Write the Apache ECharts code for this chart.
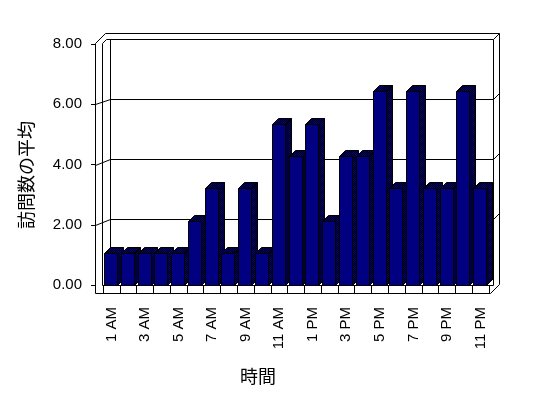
<!DOCTYPE html>
<html>
<head>
<meta charset="utf-8">
<script src="https://cdn.jsdelivr.net/npm/echarts@6/dist/echarts.min.js"></script>
<style>
  html, body { margin: 0; padding: 0; background: #ffffff; }
  #chart { width: 548px; height: 398px; }
</style>
</head>
<body>
<div id="chart"></div>
<script>
// 時間帯ごとの訪問数の平均
const hours = [
  '1 AM', '2 AM', '3 AM', '4 AM', '5 AM', '6 AM', '7 AM', '8 AM', '9 AM', '10 AM', '11 AM',
  '12 PM', '1 PM', '2 PM', '3 PM', '4 PM', '5 PM', '6 PM', '7 PM', '8 PM', '9 PM', '10 PM', '11 PM'
];
const averages = [
  1.07, 1.07, 1.07, 1.07, 1.07, 2.14, 3.21, 1.07, 3.21, 1.07, 5.36,
  4.29, 5.36, 2.14, 4.29, 4.29, 6.43, 3.21, 6.43, 3.21, 3.21, 6.43, 3.21
];
const yMin = 0;
const yMax = 8;
const yStep = 2;
const gridValues = [2, 4, 6];

const latin = '"Liberation Sans", Arial, sans-serif';
const cjk = '"Noto Sans CJK JP", sans-serif';

// 網掛け (側面・上面)
const dot = document.createElement('canvas');
dot.width = dot.height = 2;
const g = dot.getContext('2d');
g.fillStyle = '#000080';
g.fillRect(0, 0, 2, 2);
g.fillStyle = '#000000';
g.fillRect(0, 0, 1, 1);
g.fillRect(1, 1, 1, 1);
const shade = { image: dot, repeat: 'repeat' };

const FACE_W = 13;
const DEPTH = 6;

function renderBar(params, api) {
  const i = api.value(0);
  const base = api.coord([i, 0]);
  const top = api.coord([i, api.value(1)]);
  const band = api.size([1, 0])[0];
  const x0 = Math.round(base[0] - band / 2 + 1) + 0.5;
  const x1 = x0 + FACE_W;
  const y0 = Math.round(top[1]) + 0.5;
  const y1 = Math.round(base[1]) + 0.5;
  const ink = { stroke: '#000000', lineWidth: 1 };
  return {
    type: 'group',
    children: [
      {
        type: 'polygon',
        shape: { points: [[x1, y0], [x1 + DEPTH, y0 - DEPTH], [x1 + DEPTH, y1 - DEPTH], [x1, y1]] },
        style: Object.assign({ fill: shade }, ink)
      },
      {
        type: 'polygon',
        shape: { points: [[x0, y0], [x0 + DEPTH, y0 - DEPTH], [x1 + DEPTH, y0 - DEPTH], [x1, y0]] },
        style: Object.assign({ fill: shade }, ink)
      },
      {
        type: 'rect',
        shape: { x: x0, y: y0, width: FACE_W, height: y1 - y0 },
        style: Object.assign({ fill: '#000080' }, ink)
      }
    ]
  };
}

const chart = echarts.init(document.getElementById('chart'));
const option = {
  animation: false,
  backgroundColor: '#ffffff',
  grid: [
    { left: 103, top: 44, width: 386, height: 241 },
    { left: 110, top: 39, width: 383, height: 240 }
  ],
  xAxis: [
    {
      type: 'category',
      gridIndex: 0,
      data: hours,
      axisLine: { show: false },
      axisTick: { show: true, interval: 0, length: 8, lineStyle: { color: '#000000' } },
      axisLabel: {
        interval: 1,
        rotate: 90,
        margin: 22,
        color: '#000000',
        fontSize: 15,
        fontFamily: latin
      }
    },
    { type: 'category', gridIndex: 1, data: hours, show: false }
  ],
  yAxis: [
    {
      type: 'value',
      gridIndex: 0,
      min: yMin,
      max: yMax,
      interval: yStep,
      offset: 8,
      axisLine: { show: false },
      axisTick: { show: true, length: 4, lineStyle: { color: '#000000' } },
      axisLabel: {
        margin: 13,
        color: '#000000',
        fontSize: 15,
        fontFamily: latin,
        formatter: v => v.toFixed(2)
      },
      splitLine: { show: false }
    },
    {
      type: 'value',
      gridIndex: 1,
      min: yMin,
      max: yMax,
      interval: yStep,
      axisLine: { show: false },
      axisTick: { show: false },
      axisLabel: { show: false },
      splitLine: { show: true, lineStyle: { color: '#000000', width: 1 } }
    }
  ],
  series: [
    {
      type: 'custom',
      name: '訪問数の平均',
      xAxisIndex: 0,
      yAxisIndex: 0,
      renderItem: renderBar,
      encode: { x: 0, y: 1 },
      data: hours.map((h, i) => [i, averages[i]])
    }
  ]
};
chart.setOption(option);

// 壁と床の枠線
const ink = { stroke: '#000000', lineWidth: 1, fill: null };
const frame = [
  { type: 'polyline', shape: { points: [[95.5, 293.5], [95.5, 43.5], [105.5, 33.5], [499.5, 33.5], [499.5, 284.5], [490.5, 293.5], [95.5, 293.5]] } },
  { type: 'polyline', shape: { points: [[102.5, 285.5], [102.5, 43.5], [106.5, 39.5], [493.5, 39.5], [493.5, 285.5]] } },
  { type: 'polyline', shape: { points: [[110.5, 39.5], [110.5, 279.5]] } },
  { type: 'polyline', shape: { points: [[493.5, 39.5], [499.5, 33.5]] } },
  { type: 'polyline', shape: { points: [[102.5, 285.5], [493.5, 285.5]] } }
];
gridValues.forEach(v => {
  const yf = Math.round(chart.convertToPixel({ yAxisIndex: 0 }, v)) + 0.5;
  const yb = Math.round(chart.convertToPixel({ yAxisIndex: 1 }, v)) + 0.5;
  frame.push({ type: 'polyline', shape: { points: [[95.5, yf], [110.5, yb]] } });
  frame.push({ type: 'polyline', shape: { points: [[493.5, yb], [499.5, yb - 6]] } });
});
frame.forEach(el => { el.style = ink; el.silent = true; el.z = 0; });

frame.push({
  type: 'text', x: 26, y: 175, rotation: Math.PI / 2, silent: true,
  style: { text: '訪問数の平均', font: '18px ' + cjk, fill: '#000000', align: 'center', verticalAlign: 'middle' }
});
frame.push({
  type: 'text', x: 258, y: 376, silent: true,
  style: { text: '時間', font: '18px ' + cjk, fill: '#000000', align: 'center', verticalAlign: 'middle' }
});

chart.setOption({ graphic: frame });
</script>
</body>
</html>
